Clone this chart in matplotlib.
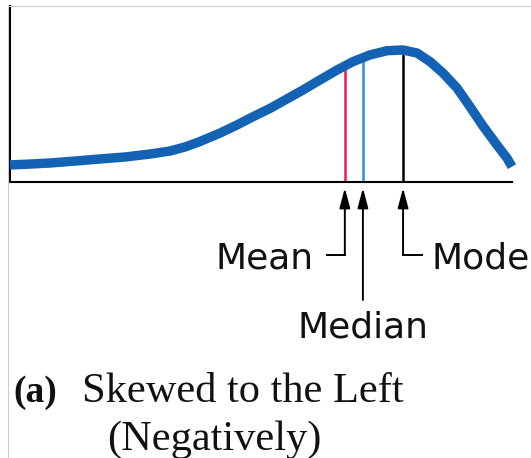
import matplotlib
matplotlib.use("Agg")
import matplotlib.pyplot as plt
from matplotlib.lines import Line2D

# curve (x = score 0..100, y = relative height 0..1)
curve_x = [0, 3.98, 7.97, 12.95, 17.93, 22.91, 27.89, 31.87, 34.86, 37.85,
           41.83, 45.22, 48.41, 51.79, 55.18, 58.37, 61.75, 65.14, 68.33,
           71.71, 75.10, 78.29, 81.08, 83.67, 86.25, 89.04, 91.63, 94.22,
           97.01, 99.0, 100]
curve_y = [0.097, 0.102, 0.108, 0.119, 0.131, 0.142, 0.159, 0.176, 0.199,
           0.230, 0.278, 0.324, 0.371, 0.418, 0.472, 0.523, 0.580, 0.636,
           0.684, 0.722, 0.746, 0.750, 0.733, 0.684, 0.619, 0.534, 0.428,
           0.318, 0.210, 0.136, 0.087]

stat_names = ["Mean", "Median", "Mode"]
stat_x = [66.7, 70.3, 78.3]
stat_top = [0.65, 0.70, 0.75]
stat_colors = ["#e8195a", "#2b8fd6", "black"]

fig = plt.figure(figsize=(5.31, 4.58), dpi=100)
ax = fig.add_axes([10 / 531, 276 / 458, 502 / 531, 176 / 458])
ax.set_xlim(0, 100)
ax.set_ylim(0, 1)
ax.set_xticks([])
ax.set_yticks([])
for s in ["top", "right"]:
    ax.spines[s].set_visible(False)
for s in ["left", "bottom"]:
    ax.spines[s].set_linewidth(1.5)
    ax.spines[s].set_color("black")

# stat lines up to the curve
for xv, top, c in zip(stat_x, stat_top, stat_colors):
    ax.plot([xv, xv], [0, top], color=c, lw=1.8, zorder=2)

ax.plot(curve_x, curve_y, color="#1462b3", lw=6.8, solid_joinstyle="round",
        solid_capstyle="butt", zorder=3, clip_on=False)

# arrows + hand labels
tip = -0.034
elbow = -0.415
arrow = dict(arrowstyle="-|>,head_length=1.2,head_width=0.32", color="black",
             lw=1.4, shrinkA=0, shrinkB=0)
hand = dict(fontsize=26, family="DejaVu Sans", color="#111111")

# Mean: elbow to the left
ax.plot([63.1, stat_x[0]], [elbow, elbow], color="black", lw=1.4, clip_on=False)
ax.annotate("", xy=(stat_x[0], tip), xytext=(stat_x[0], elbow),
            arrowprops=arrow, annotation_clip=False)
ax.text(60.4, -0.489, stat_names[0], ha="right", va="baseline", clip_on=False, **hand)

# Median: straight down
ax.annotate("", xy=(stat_x[1], tip), xytext=(stat_x[1], -0.67),
            arrowprops=arrow, annotation_clip=False)
ax.text(57.2, -0.886, stat_names[1], ha="left", va="baseline", clip_on=False, **hand)

# Mode: elbow to the right
ax.plot([stat_x[2], 82.1], [elbow, elbow], color="black", lw=1.4, clip_on=False)
ax.annotate("", xy=(stat_x[2], tip), xytext=(stat_x[2], elbow),
            arrowprops=arrow, annotation_clip=False)
ax.text(84.0, -0.489, stat_names[2], ha="left", va="baseline", clip_on=False, **hand)

# caption
serif = "Liberation Serif"
fig.text(13 / 531, 1 - 402 / 458, "(a)", fontsize=27, fontweight="bold",
         family=serif, va="baseline", color="#111111")
fig.text(82 / 531, 1 - 402 / 458, "Skewed to the Left", fontsize=30.5,
         family=serif, va="baseline", color="#111111")
fig.text(107 / 531, 1 - 450 / 458, "(Negatively)", fontsize=30.5,
         family=serif, va="baseline", color="#111111")

# faint frame of the original scan
fig.add_artist(Line2D([8 / 531, 1], [1 - 5.5 / 458, 1 - 5.5 / 458],
                      color="#cccccc", lw=0.8))
fig.add_artist(Line2D([8 / 531, 8 / 531], [0, 1 - 5.5 / 458],
                      color="#cccccc", lw=0.8))

fig.savefig("out.png", dpi=100)
